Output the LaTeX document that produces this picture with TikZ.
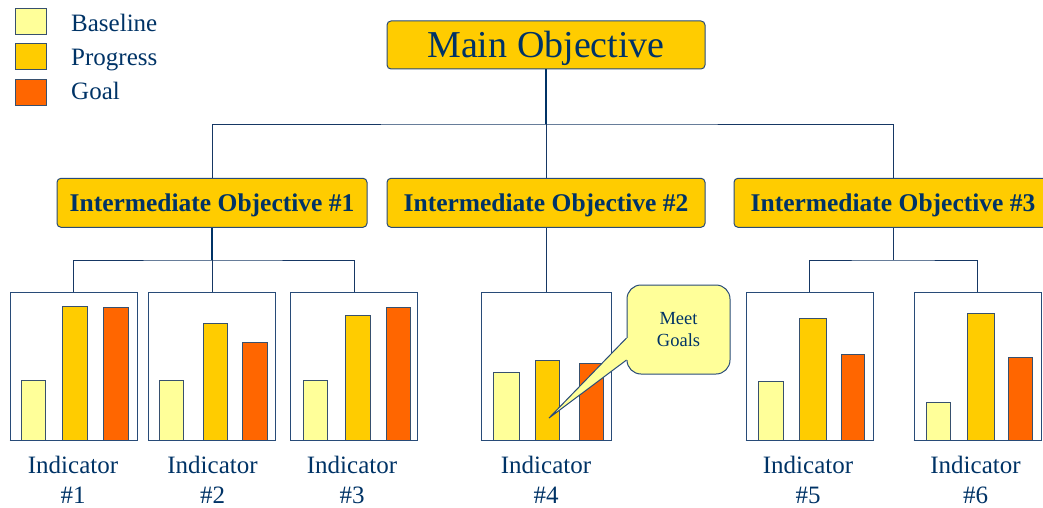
\documentclass[tikz,border=0pt]{standalone}
\usepackage{fontspec}
\setmainfont{Liberation Serif}
\definecolor{navy}{RGB}{0,51,102}
\definecolor{linecol}{RGB}{22,55,100}
\definecolor{boxline}{RGB}{40,75,120}
\definecolor{barline}{RGB}{55,80,110}
\definecolor{gold}{RGB}{255,204,0}
\definecolor{paleyellow}{RGB}{255,255,153}
\definecolor{orangegoal}{RGB}{255,102,0}
\newcommand{\indbar}[5]{\node[barbox,fill=#2,minimum width=#4,minimum height=#5] (#1) at (#3,440) {};}
\begin{document}
\begin{tikzpicture}[x=1pt,y=-1pt,
  objbox/.style={draw=boxline,fill=gold,rounded corners=4pt,line width=1pt,inner sep=0pt,text=navy},
  mainbox/.style={objbox,minimum width=318pt,minimum height=48pt,font=\fontsize{38}{40}\selectfont,text height=25.6pt,text depth=0pt},
  iobox/.style={objbox,minimum width=#1,minimum height=49pt,font=\fontsize{25.5}{28}\selectfont\bfseries,text height=17.6pt,text depth=0pt},
  indbox/.style={draw=boxline,line width=1pt,minimum height=148pt,inner sep=0pt},
  barbox/.style={draw=barline,line width=0.9pt,anchor=south west,inner sep=0pt,outer sep=0pt},
  conn/.style={draw=linecol,line width=0.9pt},
  trunk/.style={draw=navy,line width=1.4pt},
  lab/.style={anchor=north,align=center,inner sep=0pt,text=navy,font=\fontsize{25}{30}\selectfont},
  legsq/.style={draw=barline,line width=1pt,minimum width=31pt,minimum height=26pt,inner sep=0pt},
  legtxt/.style={anchor=base west,inner sep=0pt,text=navy,font=\fontsize{25}{28}\selectfont}
]
\useasboundingbox (0,0) rectangle (1043,508);

% legend
\node[legsq,fill=paleyellow] (lg1) at (30.5,21.5) {};
\node[legsq,fill=gold] (lg2) at (30.5,57) {};
\node[legsq,fill=orangegoal] (lg3) at (30.5,92.5) {};
\node[legtxt] (lt1) at (71,31.7) {Baseline};
\node[legtxt] (lt2) at (71,65.5) {Progress};
\node[legtxt] (lt3) at (71,100) {Goal};

% objectives
\node[mainbox] (main) at (546,45) {Main Objective};
\node[iobox=310pt] (io1) at (212,202.8) {Intermediate Objective \#1};
\node[iobox=318pt] (io2) at (546,202.8) {Intermediate Objective \#2};
\node[iobox=318pt] (io3) at (893,202.8) {Intermediate Objective \#3};

% indicator boxes
\node[indbox,minimum width=127pt] (ind1) at (73.5,366) {};
\node[indbox,minimum width=127pt] (ind2) at (212,366) {};
\node[indbox,minimum width=127pt] (ind3) at (354,366) {};
\node[indbox,minimum width=130pt] (ind4) at (546,366) {};
\node[indbox,minimum width=127pt] (ind5) at (809.5,366) {};
\node[indbox,minimum width=127pt] (ind6) at (977.5,366) {};

% connectors
\coordinate (busA) at (546,124);
\draw[conn] (io1.north) |- (busA) -| (io3.north);
\draw[conn] (busA) -- (io2.north);
\draw[trunk] (main.south) -- (busA);
\coordinate (busB) at (212,260);
\draw[conn] (ind1.north) |- (busB) -| (ind3.north);
\draw[conn] (busB) -- (ind2.north);
\draw[trunk] (io1.south) -- (busB);
\draw[conn] (io2.south) -- (ind4.north);
\coordinate (busC) at (893,260);
\draw[conn] (io3.south) -- (busC);
\draw[conn] (ind5.north) |- (busC) -| (ind6.north);

% bars
\indbar{b1a}{paleyellow}{21}{24pt}{60pt}
\indbar{b1b}{gold}{62}{25pt}{134pt}
\indbar{b1c}{orangegoal}{103}{25pt}{133pt}
\indbar{b2a}{paleyellow}{159}{24pt}{60pt}
\indbar{b2b}{gold}{203}{24pt}{117pt}
\indbar{b2c}{orangegoal}{242}{25pt}{98pt}
\indbar{b3a}{paleyellow}{303}{24pt}{60pt}
\indbar{b3b}{gold}{345}{25pt}{125pt}
\indbar{b3c}{orangegoal}{386}{24pt}{133pt}
\indbar{b4a}{paleyellow}{493}{26pt}{68pt}
\indbar{b4b}{gold}{535}{24pt}{80pt}
\indbar{b4c}{orangegoal}{579}{24pt}{77pt}
\indbar{b5a}{paleyellow}{758}{25pt}{59pt}
\indbar{b5b}{gold}{799.5}{26.5pt}{122pt}
\indbar{b5c}{orangegoal}{841}{23pt}{86pt}
\indbar{b6a}{paleyellow}{926}{24.5pt}{38pt}
\indbar{b6b}{gold}{967.5}{26.5pt}{127pt}
\indbar{b6c}{orangegoal}{1008.5}{23.5pt}{83pt}

% redraw box bottoms over bars
\foreach \n in {ind1,ind2,ind3,ind4,ind5,ind6}{\draw[draw=boxline,line width=1pt] (\n.south west) -- (\n.south east);}

% labels
\node[lab] (l1) at (73,456) {Indicator\\\#1};
\node[lab] (l2) at (212.5,456) {Indicator\\\#2};
\node[lab] (l3) at (352,456) {Indicator\\\#3};
\node[lab] (l4) at (546,456) {Indicator\\\#4};
\node[lab] (l5) at (808,456) {Indicator\\\#5};
\node[lab] (l6) at (975.5,456) {Indicator\\\#6};

% callout
\node[draw=boxline,fill=paleyellow,line width=1pt,rounded corners=14pt,minimum width=103pt,minimum height=89pt,inner sep=0pt,align=center,text=navy,font=\fontsize{18.5}{22}\selectfont] (callout) at (678.5,329.5) {Meet\\Goals};
\coordinate (tip) at (549,418);
\coordinate (p1) at ([yshift=-8.5pt]callout.west);
\coordinate (p2) at ([yshift=-30.5pt]callout.west);
\fill[paleyellow] (p1) -- (tip) -- (p2) -- ([xshift=2pt]p2) -- ([xshift=2pt]p1) -- cycle;
\draw[draw=boxline,line width=1pt,line join=miter] (p1) -- (tip) -- (p2);
\end{tikzpicture}
\end{document}
